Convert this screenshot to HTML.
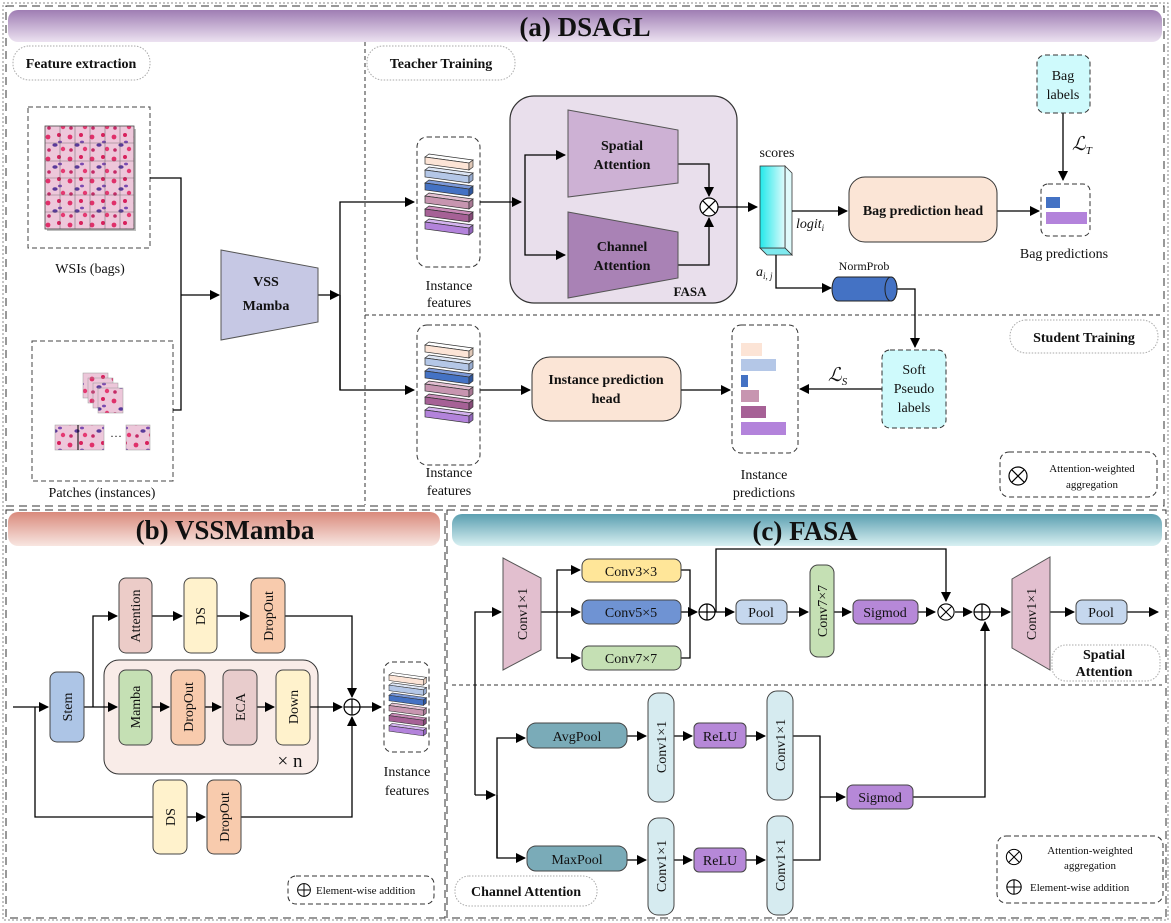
<!DOCTYPE html>
<html><head><meta charset="utf-8"><style>
html,body{margin:0;padding:0;background:#fff}
svg{display:block;font-family:"Liberation Serif","Times New Roman",serif}
text{font-family:"Liberation Serif","Times New Roman",serif;fill:#111}
.b{font-weight:bold}
</style></head><body>
<svg width="1171" height="923" viewBox="0 0 1171 923" xmlns="http://www.w3.org/2000/svg" font-family="Liberation Serif, serif">
<defs>
<marker id="ar" markerWidth="10" markerHeight="10" refX="9" refY="5" orient="auto" markerUnits="userSpaceOnUse"><path d="M0,0 L10,5 L0,10 z" fill="#000"/></marker>
<linearGradient id="ga" x1="0" y1="0" x2="0" y2="1"><stop offset="0" stop-color="#9f7db3"/><stop offset="1" stop-color="#ece2f1"/></linearGradient>
<linearGradient id="gb" x1="0" y1="0" x2="0" y2="1"><stop offset="0" stop-color="#d98a7c"/><stop offset="1" stop-color="#f8e6e1"/></linearGradient>
<linearGradient id="gc" x1="0" y1="0" x2="0" y2="1"><stop offset="0" stop-color="#5b9fb0"/><stop offset="1" stop-color="#d8f0f2"/></linearGradient>
<linearGradient id="gs" x1="0" y1="0" x2="1" y2="0"><stop offset="0" stop-color="#22e8ea"/><stop offset="1" stop-color="#e0fbfc"/></linearGradient>
<g id="stack">
 <g stroke="#333" stroke-width="0.7">
  <polygon points="0,0 4,-3 48,3 44,6" fill="#fff"/><polygon points="0,0 44,6 44,13 0,7" fill="#fce4d6"/><polygon points="44,6 48,3 48,10 44,13" fill="#e0c8b8"/>
  <g transform="translate(0,13)"><polygon points="0,0 4,-3 48,3 44,6" fill="#dde6f5"/><polygon points="0,0 44,6 44,13 0,7" fill="#b4c7e7"/><polygon points="44,6 48,3 48,10 44,13" fill="#98acd0"/></g>
  <g transform="translate(0,26)"><polygon points="0,0 4,-3 48,3 44,6" fill="#7d9ad8"/><polygon points="0,0 44,6 44,13 0,7" fill="#4472c4"/><polygon points="44,6 48,3 48,10 44,13" fill="#2f569c"/></g>
  <g transform="translate(0,39)"><polygon points="0,0 4,-3 48,3 44,6" fill="#e3c0d2"/><polygon points="0,0 44,6 44,13 0,7" fill="#c795b0"/><polygon points="44,6 48,3 48,10 44,13" fill="#a87894"/></g>
  <g transform="translate(0,52)"><polygon points="0,0 4,-3 48,3 44,6" fill="#c98bb8"/><polygon points="0,0 44,6 44,13 0,7" fill="#a66196"/><polygon points="44,6 48,3 48,10 44,13" fill="#864a78"/></g>
  <g transform="translate(0,65)"><polygon points="0,0 4,-3 48,3 44,6" fill="#d4b4ef"/><polygon points="0,0 44,6 44,13 0,7" fill="#b383db"/><polygon points="44,6 48,3 48,10 44,13" fill="#9266bb"/></g>
 </g>
</g>
<g id="otimes"><circle r="9" fill="#fff" stroke="#000" stroke-width="1.2"/><path d="M-6.3,-6.3 L6.3,6.3 M-6.3,6.3 L6.3,-6.3" stroke="#000" stroke-width="1.2"/></g>
<g id="oplus"><circle r="8" fill="#fff" stroke="#000" stroke-width="1.2"/><path d="M-8,0 L8,0 M0,-8 L0,8" stroke="#000" stroke-width="1.2"/></g>
<pattern id="tissue" width="22" height="22" patternUnits="userSpaceOnUse">
 <rect width="22" height="22" fill="#edc7da"/>
 <circle cx="4" cy="5" r="2.4" fill="#e0306a"/><circle cx="15" cy="3" r="2" fill="#d8205c"/><ellipse cx="11" cy="13" rx="2.6" ry="1.8" fill="#5a3a9a"/><circle cx="19" cy="17" r="2.2" fill="#e53a72"/><circle cx="5" cy="18" r="1.8" fill="#c42a66"/><ellipse cx="16" cy="10" rx="2" ry="1.4" fill="#7a4ab0"/>
</pattern>
</defs>

<rect x="3" y="3" width="1165" height="917" fill="none" stroke="#888" stroke-dasharray="2,2"/>
<rect x="6" y="6" width="1158" height="500" fill="none" stroke="#333" stroke-dasharray="8,5"/>

<rect x="8" y="10" width="1154" height="32" rx="10" fill="url(#ga)"/>
<text x="585" y="36" text-anchor="middle" class="b" font-size="27">(a) DSAGL</text>

<line x1="365" y1="42" x2="365" y2="505" stroke="#333" stroke-dasharray="4,3"/>
<line x1="365" y1="315" x2="1160" y2="315" stroke="#333" stroke-dasharray="4,3"/>

<rect x="13" y="46" width="137" height="34" rx="16" fill="#fff" stroke="#aaa" stroke-dasharray="1.5,1.5"/>
<text x="81" y="68" text-anchor="middle" class="b" font-size="14">Feature extraction</text>
<rect x="367" y="46" width="148" height="34" rx="16" fill="#fff" stroke="#aaa" stroke-dasharray="1.5,1.5"/>
<text x="441" y="68" text-anchor="middle" class="b" font-size="14">Teacher Training</text>

<rect x="28" y="107" width="122" height="141" fill="none" stroke="#444" stroke-dasharray="5,3"/>
<rect x="47" y="129" width="89" height="102" fill="#000" opacity="0.25"/>
<rect x="45" y="126" width="89" height="103" fill="url(#tissue)" stroke="#444" stroke-width="0.8"/>
<path d="M60,126V229M75,126V229M90,126V229M105,126V229M120,126V229M45,143H134M45,161H134M45,178H134M45,195H134M45,212H134" stroke="#555" stroke-width="0.6" opacity="0.7"/>
<text x="90" y="273" text-anchor="middle" font-size="14">WSIs (bags)</text>

<rect x="32" y="341" width="141" height="140" fill="none" stroke="#444" stroke-dasharray="5,3"/>
<rect x="83" y="373" width="25" height="25" fill="url(#tissue)" stroke="#999" stroke-width="0.5"/>
<rect x="88" y="378" width="25" height="25" fill="url(#tissue)" stroke="#999" stroke-width="0.5"/>
<rect x="93" y="383" width="25" height="25" fill="url(#tissue)" stroke="#999" stroke-width="0.5"/>
<rect x="98" y="388" width="25" height="25" fill="url(#tissue)" stroke="#999" stroke-width="0.5"/>
<rect x="55" y="425" width="49" height="25" fill="url(#tissue)" stroke="#999" stroke-width="0.5"/>
<line x1="78" y1="425" x2="78" y2="450" stroke="#000"/>
<text x="116" y="440" text-anchor="middle" font-size="12">···</text>
<rect x="126" y="425" width="24" height="25" fill="url(#tissue)" stroke="#999" stroke-width="0.5"/>
<text x="102" y="497" text-anchor="middle" font-size="14">Patches (instances)</text>

<g stroke="#000" stroke-width="1.3" fill="none">
<path d="M150,178H181V410H173"/>
<path d="M181,295H219" marker-end="url(#ar)"/>
<path d="M318,295H339" marker-end="url(#ar)"/>
<path d="M340,390V202H414" marker-end="url(#ar)"/>
<path d="M340,295V390H414" marker-end="url(#ar)"/>
</g>

<polygon points="221,250 318,268 318,322 221,340" fill="#c6c8e4" stroke="#555"/>
<text x="266" y="286" text-anchor="middle" class="b" font-size="14">VSS</text>
<text x="266" y="310" text-anchor="middle" class="b" font-size="14">Mamba</text>

<rect x="417" y="137" width="63" height="130" rx="10" fill="none" stroke="#333" stroke-dasharray="5,3"/>
<use href="#stack" x="425" y="157"/>
<text x="449" y="290" text-anchor="middle" font-size="14">Instance</text>
<text x="449" y="307" text-anchor="middle" font-size="14">features</text>

<rect x="510" y="96" width="227" height="207" rx="24" fill="#e9dfec" stroke="#333" stroke-width="1.2"/>
<g stroke="#000" stroke-width="1.3" fill="none">
<path d="M480,202H521" marker-end="url(#ar)"/>
<path d="M525,202V155H565" marker-end="url(#ar)"/>
<path d="M525,202V255H565" marker-end="url(#ar)"/>
<path d="M678,164H709V196" marker-end="url(#ar)"/>
<path d="M678,265H709V218" marker-end="url(#ar)"/>
<path d="M718,207H757" marker-end="url(#ar)"/>
</g>
<polygon points="568,110 678,130 678,183 568,197" fill="#cdb1d4" stroke="#555"/>
<text x="622" y="150" text-anchor="middle" class="b" font-size="14">Spatial</text>
<text x="622" y="169" text-anchor="middle" class="b" font-size="14">Attention</text>
<polygon points="568,212 678,232 678,278 568,298" fill="#a982b5" stroke="#555"/>
<text x="622" y="251" text-anchor="middle" class="b" font-size="14">Channel</text>
<text x="622" y="270" text-anchor="middle" class="b" font-size="14">Attention</text>
<use href="#otimes" x="709" y="207"/>
<text x="690" y="296" text-anchor="middle" class="b" font-size="13">FASA</text>

<text x="777" y="157" text-anchor="middle" font-size="14">scores</text>
<polygon points="785,166 792,173 792,255 785,248" fill="#e0fbfc" stroke="#333" stroke-width="0.8"/>
<polygon points="760,248 785,248 792,255 767,255" fill="#7fe9ee" stroke="#333" stroke-width="0.8"/>
<rect x="760" y="166" width="25" height="82" fill="url(#gs)" stroke="#333" stroke-width="0.8"/>
<text x="796" y="228" font-size="14" font-style="italic">logit<tspan font-size="9" dy="3">i</tspan></text>
<text x="756" y="276" font-size="14" font-style="italic">a<tspan font-size="9" dy="3">i, j</tspan></text>
<g stroke="#000" stroke-width="1.3" fill="none">
<path d="M792,211H847" marker-end="url(#ar)"/>
<path d="M997,211H1039" marker-end="url(#ar)"/>
<path d="M1063,113V180" marker-end="url(#ar)"/>
<path d="M776,255V288H831" marker-end="url(#ar)"/>
<path d="M897,289H915V347" marker-end="url(#ar)"/>
<path d="M882,389H800" marker-end="url(#ar)"/>
<path d="M480,390H530" marker-end="url(#ar)"/>
<path d="M681,390H730" marker-end="url(#ar)"/>
</g>

<rect x="849" y="177" width="148" height="65" rx="16" fill="#fbe5d6" stroke="#333"/>
<text x="923" y="215" text-anchor="middle" class="b" font-size="14">Bag prediction head</text>

<rect x="1037" y="55" width="53" height="58" rx="8" fill="#cffafc" stroke="#333" stroke-dasharray="5,3"/>
<text x="1063" y="80" text-anchor="middle" font-size="14">Bag</text>
<text x="1063" y="99" text-anchor="middle" font-size="14">labels</text>
<text x="1072" y="150" font-size="19" font-style="italic">ℒ<tspan font-size="11" dy="4">T</tspan></text>

<rect x="1041" y="184" width="49" height="52" rx="7" fill="#fff" stroke="#333" stroke-dasharray="5,3"/>
<rect x="1046" y="197" width="14" height="11" fill="#4472c4"/>
<rect x="1046" y="212" width="41" height="12" fill="#b383db"/>
<text x="1064" y="258" text-anchor="middle" font-size="14">Bag predictions</text>

<text x="864" y="270" text-anchor="middle" font-size="12">NormProb</text>
<path d="M838,277 H891 A6,12 0 0 1 891,301 H838 A6,12 0 0 1 838,277 z" fill="#4472c4" stroke="#222"/>
<ellipse cx="891" cy="289" rx="6" ry="12" fill="#4472c4" stroke="#222"/>

<rect x="1010" y="320" width="148" height="33" rx="16" fill="#fff" stroke="#aaa" stroke-dasharray="1.5,1.5"/>
<text x="1084" y="342" text-anchor="middle" class="b" font-size="14">Student Training</text>

<rect x="882" y="350" width="64" height="78" rx="8" fill="#cffafc" stroke="#333" stroke-dasharray="5,3"/>
<text x="914" y="374" text-anchor="middle" font-size="14">Soft</text>
<text x="914" y="393" text-anchor="middle" font-size="14">Pseudo</text>
<text x="914" y="412" text-anchor="middle" font-size="14">labels</text>
<text x="828" y="381" font-size="19" font-style="italic">ℒ<tspan font-size="11" dy="4">S</tspan></text>

<rect x="417" y="325" width="63" height="140" rx="10" fill="none" stroke="#333" stroke-dasharray="5,3"/>
<use href="#stack" x="425" y="345"/>
<text x="449" y="477" text-anchor="middle" font-size="14">Instance</text>
<text x="449" y="495" text-anchor="middle" font-size="14">features</text>

<rect x="532" y="357" width="149" height="64" rx="18" fill="#fbe5d6" stroke="#333"/>
<text x="606" y="384" text-anchor="middle" class="b" font-size="14">Instance prediction</text>
<text x="606" y="403" text-anchor="middle" class="b" font-size="14">head</text>

<rect x="732" y="325" width="66" height="128" rx="9" fill="#fff" stroke="#333" stroke-dasharray="5,3"/>
<rect x="741" y="343" width="21" height="13" fill="#fce4d6"/>
<rect x="741" y="359" width="35" height="12" fill="#b4c7e7"/>
<rect x="741" y="375" width="7" height="12" fill="#4472c4"/>
<rect x="741" y="390" width="18" height="12" fill="#c795b0"/>
<rect x="741" y="406" width="25" height="12" fill="#a66196"/>
<rect x="741" y="422" width="45" height="13" fill="#b383db"/>
<text x="764" y="479" text-anchor="middle" font-size="14">Instance</text>
<text x="764" y="497" text-anchor="middle" font-size="14">predictions</text>

<rect x="1000" y="452" width="157" height="45" rx="9" fill="#fff" stroke="#333" stroke-dasharray="5,3"/>
<use href="#otimes" x="1018" y="476"/>
<text x="1092" y="472" text-anchor="middle" font-size="11">Attention-weighted</text>
<text x="1092" y="488" text-anchor="middle" font-size="11">aggregation</text>

<rect x="6" y="510" width="439" height="408" fill="none" stroke="#333" stroke-dasharray="8,5"/>
<rect x="8" y="512" width="432" height="34" rx="10" fill="url(#gb)"/>
<text x="225" y="539" text-anchor="middle" class="b" font-size="27">(b) VSSMamba</text>

<rect x="104" y="660" width="214" height="114" rx="15" fill="#f9ece8" stroke="#333"/>
<text x="290" y="767" text-anchor="middle" font-size="19">× n</text>
<g stroke="#000" stroke-width="1.3" fill="none">
<path d="M13,707H48" marker-end="url(#ar)"/>
<path d="M35,707V817H153"/>
<path d="M84,707H117" marker-end="url(#ar)"/>
<path d="M93,707V616H117" marker-end="url(#ar)"/>
<path d="M152,616H182" marker-end="url(#ar)"/>
<path d="M217,616H249" marker-end="url(#ar)"/>
<path d="M285,616H352V697" marker-end="url(#ar)"/>
<path d="M152,707H169" marker-end="url(#ar)"/>
<path d="M205,707H221" marker-end="url(#ar)"/>
<path d="M257,707H274" marker-end="url(#ar)"/>
<path d="M310,707H342" marker-end="url(#ar)"/>
<path d="M360,707H381" marker-end="url(#ar)"/>
<path d="M187,817H205" marker-end="url(#ar)"/>
<path d="M241,817H352V717" marker-end="url(#ar)"/>
</g>
<use href="#oplus" x="352" y="707"/>
<g stroke="#444" stroke-width="1">
<rect x="50" y="672" width="34" height="70" rx="7" fill="#adc5e6"/>
<rect x="119" y="578" width="33" height="75" rx="7" fill="#ecccc8"/>
<rect x="184" y="578" width="33" height="75" rx="7" fill="#fff2cc"/>
<rect x="251" y="578" width="34" height="75" rx="7" fill="#f8cbad"/>
<rect x="119" y="670" width="33" height="75" rx="7" fill="#c5e0b4"/>
<rect x="171" y="670" width="34" height="75" rx="7" fill="#f8cbad"/>
<rect x="223" y="670" width="34" height="75" rx="7" fill="#e8cccc"/>
<rect x="276" y="670" width="34" height="75" rx="7" fill="#fff2cc"/>
<rect x="153" y="780" width="34" height="74" rx="7" fill="#fff2cc"/>
<rect x="207" y="780" width="34" height="74" rx="7" fill="#f8cbad"/>
</g>
<g font-size="14">
<text transform="translate(72,707) rotate(-90)" text-anchor="middle">Stem</text>
<text transform="translate(140,616) rotate(-90)" text-anchor="middle">Attention</text>
<text transform="translate(205,616) rotate(-90)" text-anchor="middle">DS</text>
<text transform="translate(273,616) rotate(-90)" text-anchor="middle">DropOut</text>
<text transform="translate(140,707) rotate(-90)" text-anchor="middle">Mamba</text>
<text transform="translate(193,707) rotate(-90)" text-anchor="middle">DropOut</text>
<text transform="translate(245,707) rotate(-90)" text-anchor="middle">ECA</text>
<text transform="translate(298,707) rotate(-90)" text-anchor="middle">Down</text>
<text transform="translate(175,817) rotate(-90)" text-anchor="middle">DS</text>
<text transform="translate(229,817) rotate(-90)" text-anchor="middle">DropOut</text>
</g>
<rect x="384" y="662" width="45" height="90" rx="8" fill="none" stroke="#333" stroke-dasharray="5,3"/>
<use href="#stack" transform="translate(389,675) scale(0.78,0.78)"/>
<text x="407" y="776" text-anchor="middle" font-size="14">Instance</text>
<text x="407" y="795" text-anchor="middle" font-size="14">features</text>
<rect x="288" y="876" width="146" height="28" rx="8" fill="#fff" stroke="#333" stroke-dasharray="5,3"/>
<use href="#oplus" transform="translate(304,890) scale(0.8)"/>
<text x="316" y="894" font-size="11">Element-wise addition</text>

<rect x="447" y="510" width="719" height="408" fill="none" stroke="#333" stroke-dasharray="8,5"/>
<rect x="452" y="514" width="710" height="32" rx="10" fill="url(#gc)"/>
<text x="805" y="540" text-anchor="middle" class="b" font-size="27">(c) FASA</text>
<line x1="452" y1="685" x2="1162" y2="685" stroke="#333" stroke-dasharray="4,3"/>

<g stroke="#000" stroke-width="1.3" fill="none">
<path d="M475,795V612H501" marker-end="url(#ar)"/>
<path d="M475,795H495" marker-end="url(#ar)"/>
<path d="M497,858V738H525" marker-end="url(#ar)"/>
<path d="M497,795V858H525" marker-end="url(#ar)"/>
<path d="M541,612H580" marker-end="url(#ar)"/>
<path d="M557,612V570H580" marker-end="url(#ar)"/>
<path d="M557,612V658H580" marker-end="url(#ar)"/>
<path d="M681,570H690V658H681"/>
<path d="M681,612H697" marker-end="url(#ar)"/>
<path d="M716,612V549H946V601" marker-end="url(#ar)"/>
<path d="M715,612H734" marker-end="url(#ar)"/>
<path d="M787,612H808" marker-end="url(#ar)"/>
<path d="M834,612H851" marker-end="url(#ar)"/>
<path d="M918,612H935" marker-end="url(#ar)"/>
<path d="M955,612H972" marker-end="url(#ar)"/>
<path d="M990,612H1010" marker-end="url(#ar)"/>
<path d="M1050,612H1074" marker-end="url(#ar)"/>
<path d="M1127,612H1158" marker-end="url(#ar)"/>
<path d="M627,736H646" marker-end="url(#ar)"/>
<path d="M674,736H692" marker-end="url(#ar)"/>
<path d="M746,736H765" marker-end="url(#ar)"/>
<path d="M627,860H646" marker-end="url(#ar)"/>
<path d="M674,860H692" marker-end="url(#ar)"/>
<path d="M746,860H765" marker-end="url(#ar)"/>
<path d="M793,736H820V860H793"/>
<path d="M820,797H845" marker-end="url(#ar)"/>
<path d="M913,797H985V622" marker-end="url(#ar)"/>
</g>
<use href="#oplus" x="707" y="612"/>
<use href="#otimes" transform="translate(946,612) scale(0.9)"/>
<use href="#oplus" x="982" y="612"/>

<polygon points="503,558 541,578 541,650 503,670" fill="#e2bfcf" stroke="#555"/>
<polygon points="1012,579 1050,557 1050,670 1012,648" fill="#e2bfcf" stroke="#555"/>
<g stroke="#444" stroke-width="1">
<rect x="582" y="559" width="99" height="23" rx="7" fill="#ffe699"/>
<rect x="582" y="600" width="99" height="24" rx="7" fill="#6f93d3"/>
<rect x="582" y="646" width="99" height="24" rx="7" fill="#c5e0b4"/>
<rect x="736" y="600" width="51" height="24" rx="6" fill="#c5d7ee"/>
<rect x="810" y="565" width="24" height="92" rx="8" fill="#c5e0b4"/>
<rect x="853" y="600" width="65" height="24" rx="6" fill="#b688d8"/>
<rect x="1076" y="600" width="51" height="24" rx="6" fill="#c5d7ee"/>
<rect x="527" y="723" width="100" height="25" rx="9" fill="#7aabb8"/>
<rect x="648" y="693" width="26" height="109" rx="10" fill="#d6ebf0"/>
<rect x="694" y="723" width="52" height="25" rx="5" fill="#b688d8"/>
<rect x="767" y="691" width="26" height="109" rx="10" fill="#d6ebf0"/>
<rect x="847" y="785" width="66" height="24" rx="6" fill="#b688d8"/>
<rect x="527" y="846" width="100" height="25" rx="9" fill="#7aabb8"/>
<rect x="648" y="818" width="26" height="97" rx="10" fill="#d6ebf0"/>
<rect x="694" y="848" width="52" height="24" rx="5" fill="#b688d8"/>
<rect x="767" y="816" width="26" height="99" rx="10" fill="#d6ebf0"/>
</g>
<g font-size="14">
<text transform="translate(527,614) rotate(-90)" text-anchor="middle">Conv1×1</text>
<text transform="translate(1036,614) rotate(-90)" text-anchor="middle">Conv1×1</text>
<text x="631" y="576" text-anchor="middle">Conv3×3</text>
<text x="631" y="617" text-anchor="middle">Conv5×5</text>
<text x="631" y="663" text-anchor="middle">Conv7×7</text>
<text x="761" y="617" text-anchor="middle">Pool</text>
<text transform="translate(827,611) rotate(-90)" text-anchor="middle">Conv7×7</text>
<text x="885" y="617" text-anchor="middle">Sigmod</text>
<text x="1101" y="617" text-anchor="middle">Pool</text>
<text x="577" y="741" text-anchor="middle">AvgPool</text>
<text transform="translate(666,747) rotate(-90)" text-anchor="middle">Conv1×1</text>
<text x="720" y="741" text-anchor="middle">ReLU</text>
<text transform="translate(785,745) rotate(-90)" text-anchor="middle">Conv1×1</text>
<text x="880" y="802" text-anchor="middle">Sigmod</text>
<text x="577" y="864" text-anchor="middle">MaxPool</text>
<text transform="translate(666,866) rotate(-90)" text-anchor="middle">Conv1×1</text>
<text x="720" y="865" text-anchor="middle">ReLU</text>
<text transform="translate(785,865) rotate(-90)" text-anchor="middle">Conv1×1</text>
</g>
<rect x="1052" y="645" width="108" height="36" rx="14" fill="#fff" stroke="#aaa" stroke-dasharray="1.5,1.5"/>
<text x="1104" y="659" text-anchor="middle" class="b" font-size="14">Spatial</text>
<text x="1104" y="676" text-anchor="middle" class="b" font-size="14">Attention</text>
<rect x="455" y="876" width="142" height="30" rx="14" fill="#fff" stroke="#aaa" stroke-dasharray="1.5,1.5"/>
<text x="526" y="896" text-anchor="middle" class="b" font-size="14">Channel Attention</text>

<rect x="997" y="836" width="166" height="67" rx="9" fill="#fff" stroke="#333" stroke-dasharray="5,3"/>
<use href="#otimes" transform="translate(1014,857) scale(0.85)"/>
<use href="#oplus" transform="translate(1014,887) scale(0.9)"/>
<text x="1090" y="854" text-anchor="middle" font-size="11">Attention-weighted</text>
<text x="1090" y="869" text-anchor="middle" font-size="11">aggregation</text>
<text x="1030" y="891" font-size="11">Element-wise addition</text>
</svg>
</body></html>
